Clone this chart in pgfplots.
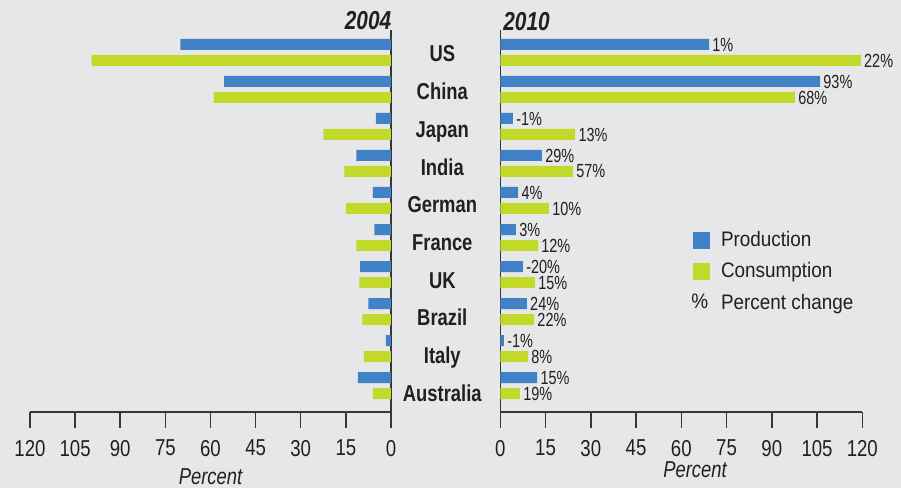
\documentclass[border=0pt]{standalone}
\usepackage{fontspec}
\setmainfont{Liberation Sans}[FakeStretch=0.9]
\newfontfamily\catfont{Liberation Sans}[FakeStretch=0.8]
\newfontfamily\labfont{Liberation Sans}[FakeStretch=0.76]
\newfontfamily\tickfont{Liberation Sans}[FakeStretch=0.81]
\usepackage{pgfplots}
\usepackage{pgfplotstable}
\pgfplotsset{compat=1.18}
\definecolor{bg}{RGB}{230,231,233}
\definecolor{prodc}{RGB}{65,129,197}
\definecolor{consc}{RGB}{194,217,44}
\definecolor{txt}{RGB}{35,31,32}
\definecolor{axc}{RGB}{55,55,55}

% 2004 values (y = -category index, US at top)
\pgfplotstableread{
y prod cons
0 70 99.5
-1 55.5 59
-2 5 22.5
-3 11.5 15.5
-4 6 15
-5 5.5 11.5
-6 10.3 10.5
-7 7.5 9.5
-8 1.7 9
-9 11 6
}\dataA

% 2010 values with percent change labels
\pgfplotstableread{
y prod cons pl cl
0 69.2 119.5 1 22
-1 106 97.7 93 68
-2 4.2 24.8 -1 13
-3 13.8 24.1 29 57
-4 5.9 16.1 4 10
-5 5.2 12.5 3 12
-6 7.5 11.5 -20 15
-7 8.8 11.2 24 22
-8 1.2 9.2 -1 8
-9 12.2 6.5 15 19
}\dataB

\pgfplotsset{panel/.style={
  scale only axis, height=191pt,
  xmin=0, xmax=120, ymin=-9.716, ymax=0.608,
  xbar, bar width=5.5pt,
  axis x line*=bottom,
  xtick={0,15,...,120}, tick align=outside, major tick length=8pt,
  tick style={axc, line width=0.75pt},
  axis line style={axc, line width=0.75pt},
  xticklabel style={font=\tickfont\fontsize{11.5}{13}\selectfont, text=txt, yshift=-2.5pt},
  /pgf/number format/assume math mode=true,
  xlabel={Percent},
  xlabel style={font=\catfont\fontsize{11.5}{13}\selectfont\itshape, text=txt, inner sep=0pt},
  clip=false,
}}

\begin{document}
\begin{tikzpicture}
\path[use as bounding box, fill=bg] (0,0) rectangle (450.5pt,-244pt);

% ---------- 2004 ----------
\begin{axis}[panel,
  at={(15pt,-206pt)}, anchor=south west, width=180.5pt,
  x dir=reverse,
  axis y line*=right,
  ytick=\empty,
  xlabel style={at={(axis description cs:0.5,0)}, anchor=center, yshift=-32.5pt},
]
\addplot[fill=prodc, draw=none, bar shift=4pt] table[x=prod, y=y] {\dataA};
\addplot[fill=consc, draw=none, bar shift=-4pt] table[x=cons, y=y] {\dataA};
\end{axis}

% ---------- 2010 ----------
\begin{axis}[panel,
  at={(250.15pt,-206pt)}, anchor=south west, width=181pt,
  axis y line*=left,
  ytick={-9.203,-8.185,-7.166,-6.147,-5.128,-4.110,-3.091,-2.072,-1.054,-0.035},
  yticklabels={Australia,Italy,Brazil,UK,France,German,India,Japan,China,US},
  ytick style={draw=none},
  yticklabel style={font=\catfont\bfseries\fontsize{11.5}{13}\selectfont, text=txt, anchor=center,
    text height=8.2pt, text depth=0pt, xshift=-21pt},
  xlabel style={at={(axis description cs:0.538,0)}, anchor=center, yshift=-29pt},
  nodes near coords={\pgfplotspointmeta\%},
  point meta=explicit symbolic,
  nodes near coords style={font=\labfont\fontsize{9.5}{11}\selectfont, text=txt, anchor=west, inner sep=1.5pt},
  legend style={draw=none, fill=none, at={(axis description cs:0.527,0.4843)}, anchor=north west,
    font=\fontsize{10.5}{12}\selectfont, text=txt, row sep=2.5pt, inner sep=0pt},
  legend cell align=left,
]
\addplot[fill=prodc, draw=none, bar shift=4pt, forget plot] table[x=prod, y=y, meta=pl] {\dataB};
\addplot[fill=consc, draw=none, bar shift=-4pt, forget plot] table[x=cons, y=y, meta=cl] {\dataB};
\addlegendimage{legend image code/.code={\fill[prodc, draw=none] (0pt,-4.25pt) rectangle (8.5pt,4.25pt); \path[draw=none, fill=none] (0,0) -- (12pt,0);}}
\addlegendentry{Production}
\addlegendimage{legend image code/.code={\fill[consc, draw=none] (0pt,-4.25pt) rectangle (8.5pt,4.25pt); \path[draw=none, fill=none] (0,0) -- (12pt,0);}}
\addlegendentry{Consumption}
\addlegendimage{legend image code/.code={\node[draw=none, fill=none, inner sep=0pt, anchor=west, font=\fontsize{10.5}{12}\selectfont, text=txt] at (-1pt,0) {\%}; \path[draw=none, fill=none] (0,0) -- (12pt,0);}}
\addlegendentry{Percent change}
\end{axis}

\node[inner sep=0pt, anchor=base east, font=\catfont\fontsize{13}{15}\selectfont\bfseries\itshape, text=txt] at (195.8pt,-14.7pt) {2004};
\node[inner sep=0pt, anchor=base west, font=\catfont\fontsize{13}{15}\selectfont\bfseries\itshape, text=txt] at (251.5pt,-15.3pt) {2010};
\end{tikzpicture}
\end{document}
